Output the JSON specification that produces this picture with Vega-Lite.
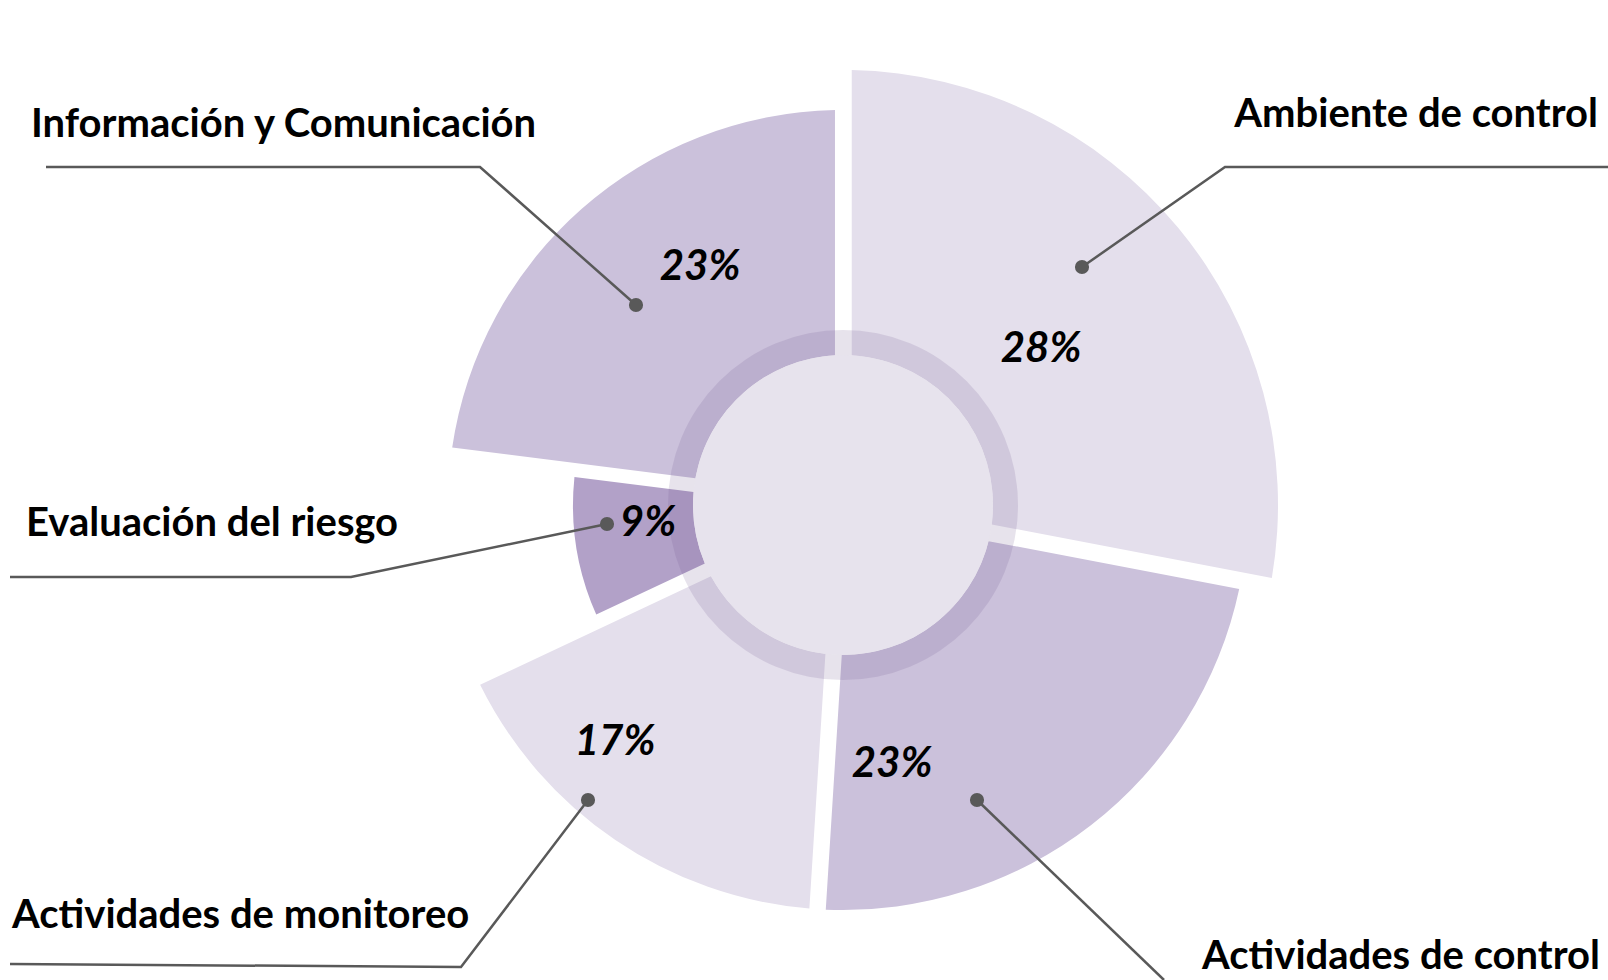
{
  "$schema": "https://vega.github.io/schema/vega-lite/v6.json",
  "width": 1530,
  "height": 950,
  "padding": {"left": 78, "top": 30, "right": 0, "bottom": 0},
  "autosize": "none",
  "background": "white",
  "config": {"view": {"stroke": null}},
  "datasets": {
    "segs": [
      {"cat": "Ambiente de control", "t0": 0, "t1": 28, "outer": 435, "inner": 150},
      {"cat": "Actividades de control", "t0": 28, "t1": 51, "outer": 405, "inner": 150},
      {"cat": "Actividades de monitoreo", "t0": 51, "t1": 68, "outer": 405, "inner": 150},
      {"cat": "Evaluación del riesgo", "t0": 68, "t1": 77, "outer": 270, "inner": 150},
      {"cat": "Información y Comunicación", "t0": 77, "t1": 100, "outer": 395, "inner": 150}
    ],
    "hole": [{"r0": 0, "r1": 150}],
    "ring": [{"r0": 150, "r1": 175}],
    "leaders": [
      {"cat": "Ambiente de control", "k": 0, "x": 239, "y": -238},
      {"cat": "Ambiente de control", "k": 1, "x": 382, "y": -338},
      {"cat": "Ambiente de control", "k": 2, "x": 765, "y": -338},
      {"cat": "Información y Comunicación", "k": 0, "x": -207, "y": -200},
      {"cat": "Información y Comunicación", "k": 1, "x": -363, "y": -338},
      {"cat": "Información y Comunicación", "k": 2, "x": -797, "y": -338},
      {"cat": "Evaluación del riesgo", "k": 0, "x": -236, "y": 19},
      {"cat": "Evaluación del riesgo", "k": 1, "x": -492, "y": 72},
      {"cat": "Evaluación del riesgo", "k": 2, "x": -833, "y": 72},
      {"cat": "Actividades de monitoreo", "k": 0, "x": -255, "y": 295},
      {"cat": "Actividades de monitoreo", "k": 1, "x": -382, "y": 462},
      {"cat": "Actividades de monitoreo", "k": 2, "x": -833, "y": 459},
      {"cat": "Actividades de control", "k": 0, "x": 134, "y": 295},
      {"cat": "Actividades de control", "k": 1, "x": 321, "y": 475}
    ],
    "dots": [
      {"cat": "Ambiente de control", "x": 239, "y": -238},
      {"cat": "Información y Comunicación", "x": -207, "y": -200},
      {"cat": "Evaluación del riesgo", "x": -236, "y": 19},
      {"cat": "Actividades de monitoreo", "x": -255, "y": 295},
      {"cat": "Actividades de control", "x": 134, "y": 295}
    ],
    "labels": [
      {"cat": "Información y Comunicación", "side": "left", "x": -812, "y": -368},
      {"cat": "Ambiente de control", "side": "right", "x": 755, "y": -378},
      {"cat": "Evaluación del riesgo", "side": "left", "x": -817, "y": 31},
      {"cat": "Actividades de monitoreo", "side": "left", "x": -831, "y": 423},
      {"cat": "Actividades de control", "side": "right", "x": 757, "y": 464}
    ],
    "pcts": [
      {"cat": "Información y Comunicación", "pct": "23%", "x": -143, "y": -225},
      {"cat": "Ambiente de control", "pct": "28%", "x": 198, "y": -143},
      {"cat": "Evaluación del riesgo", "pct": "9%", "x": -195, "y": 31},
      {"cat": "Actividades de monitoreo", "pct": "17%", "x": -228, "y": 250},
      {"cat": "Actividades de control", "pct": "23%", "x": 49, "y": 272}
    ]
  },
  "layer": [
    {
      "data": {"name": "segs"},
      "mark": {"type": "arc", "padAngle": 0.038},
      "encoding": {
        "theta": {"field": "t0", "type": "quantitative", "stack": null, "scale": {"domain": [0, 100], "nice": false, "zero": true}},
        "theta2": {"field": "t1"},
        "radius": {"field": "outer", "type": "quantitative", "scale": {"type": "linear", "domain": [0, 500], "range": [0, 500], "zero": true, "nice": false}},
        "radius2": {"field": "inner"},
        "color": {
          "field": "cat",
          "type": "nominal",
          "legend": null,
          "scale": {
            "domain": ["Ambiente de control", "Actividades de control", "Actividades de monitoreo", "Evaluación del riesgo", "Información y Comunicación"],
            "range": ["#E4DFEC", "#CBC1DB", "#E4DFEC", "#B2A1C8", "#CBC1DB"]
          }
        }
      }
    },
    {
      "data": {"name": "hole"},
      "mark": {"type": "arc", "theta": 0, "theta2": 6.2832, "fill": "#E7E3ED"},
      "encoding": {
        "radius": {"field": "r1", "type": "quantitative"},
        "radius2": {"field": "r0"}
      }
    },
    {
      "data": {"name": "ring"},
      "mark": {"type": "arc", "theta": 0, "theta2": 6.2832, "fill": "#6E5A90", "fillOpacity": 0.17},
      "encoding": {
        "radius": {"field": "r1", "type": "quantitative"},
        "radius2": {"field": "r0"}
      }
    },
    {
      "data": {"name": "leaders"},
      "mark": {"type": "line", "stroke": "#595959", "strokeWidth": 2.5},
      "encoding": {
        "x": {"field": "x", "type": "quantitative", "axis": null, "scale": {"domain": [-765, 765], "nice": false, "zero": false}},
        "y": {"field": "y", "type": "quantitative", "axis": null, "scale": {"domain": [-475, 475], "reverse": true, "nice": false, "zero": false}},
        "detail": {"field": "cat"},
        "order": {"field": "k"}
      }
    },
    {
      "data": {"name": "dots"},
      "mark": {"type": "point", "shape": "circle", "filled": true, "size": 200, "color": "#595959", "opacity": 1},
      "encoding": {
        "x": {"field": "x", "type": "quantitative"},
        "y": {"field": "y", "type": "quantitative"}
      }
    },
    {
      "data": {"name": "labels"},
      "transform": [{"filter": "datum.side == 'left'"}],
      "mark": {"type": "text", "align": "left", "baseline": "alphabetic", "font": "Lato", "fontWeight": "bold", "fontSize": 40, "color": "#000000"},
      "encoding": {
        "x": {"field": "x", "type": "quantitative"},
        "y": {"field": "y", "type": "quantitative"},
        "text": {"field": "cat"}
      }
    },
    {
      "data": {"name": "labels"},
      "transform": [{"filter": "datum.side == 'right'"}],
      "mark": {"type": "text", "align": "right", "baseline": "alphabetic", "font": "Lato", "fontWeight": "bold", "fontSize": 40, "color": "#000000"},
      "encoding": {
        "x": {"field": "x", "type": "quantitative"},
        "y": {"field": "y", "type": "quantitative"},
        "text": {"field": "cat"}
      }
    },
    {
      "data": {"name": "pcts"},
      "mark": {"type": "text", "align": "center", "baseline": "alphabetic", "font": "Lato", "fontWeight": "bold", "fontStyle": "italic", "fontSize": 42, "color": "#000000"},
      "encoding": {
        "x": {"field": "x", "type": "quantitative"},
        "y": {"field": "y", "type": "quantitative"},
        "text": {"field": "pct"}
      }
    }
  ]
}
